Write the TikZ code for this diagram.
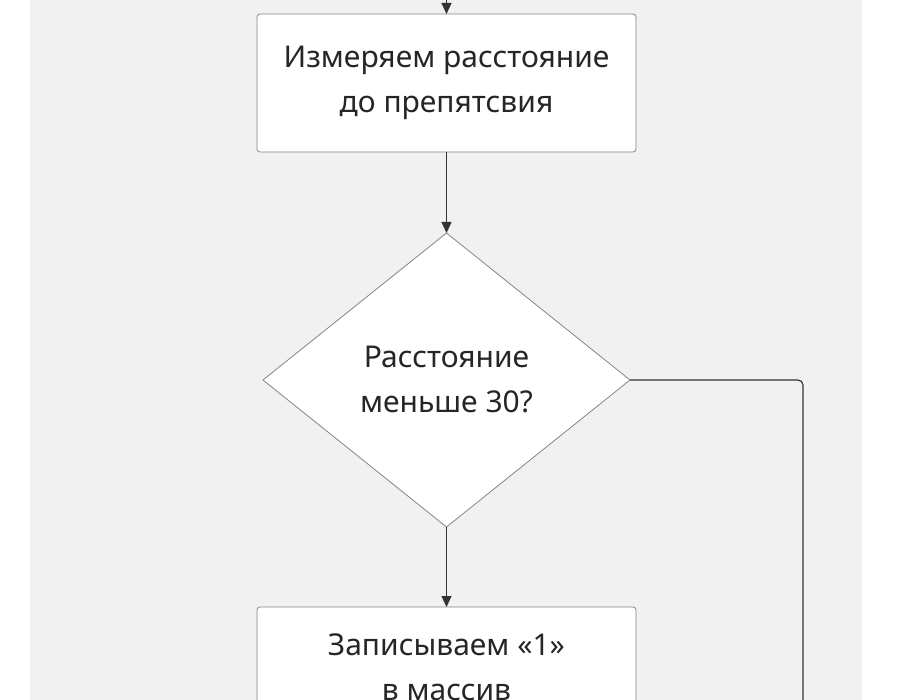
\documentclass[tikz,border=0pt]{standalone}
\usepackage{fontspec}
\setmainfont{Noto Sans}
\usetikzlibrary{arrows.meta}
\definecolor{bg}{HTML}{F1F1F1}
\definecolor{ln}{HTML}{333333}
\begin{document}
\begin{tikzpicture}[x=1pt,y=-1pt,
  box/.style={draw=ln!60,fill=white,rounded corners=3pt,line width=0.8pt},
  txt/.style={font=\fontsize{30}{45}\selectfont,align=center,text=black!85},
  arr/.style={draw=ln,line width=1.2pt,-{Triangle[length=11pt,width=10pt]}},
  lin/.style={draw=ln,line width=1.2pt,rounded corners=5pt}]
\useasboundingbox (0,0) rectangle (900,700);
\fill[bg] (30,0) rectangle (862,700);
\fill[white] (0,0) rectangle (30,700);
\draw[box] (257,14) rectangle (636,152);
\node[txt] (b1) at (446.5,83) {Измеряем расстояние\\до препятсвия};
\coordinate (b1t) at (446.5,14);
\coordinate (b1b) at (446.5,152);
\coordinate (top) at (446.5,-5);
\draw[box,rounded corners=0pt] (446.5,233) -- (630,380) -- (446.5,527) -- (263,380) -- cycle;
\node[txt] (d) at (446.5,380) {Расстояние\\меньше 30?};
\coordinate (dt) at (446.5,233);
\coordinate (db) at (446.5,527);
\coordinate (dr) at (630,380);
\draw[box] (257,607) rectangle (636,720);
\node[txt,anchor=north] (b2) at (446.5,630) {Записываем «1»\\в массив};
\coordinate (b2t) at (446.5,607);
\coordinate (bot) at (803,710);
\draw[arr] (top) -- (b1t);
\draw[arr] (b1b) -- (dt);
\draw[arr] (db) -- (b2t);
\draw[lin] (dr) -| (bot);
\end{tikzpicture}
\end{document}
